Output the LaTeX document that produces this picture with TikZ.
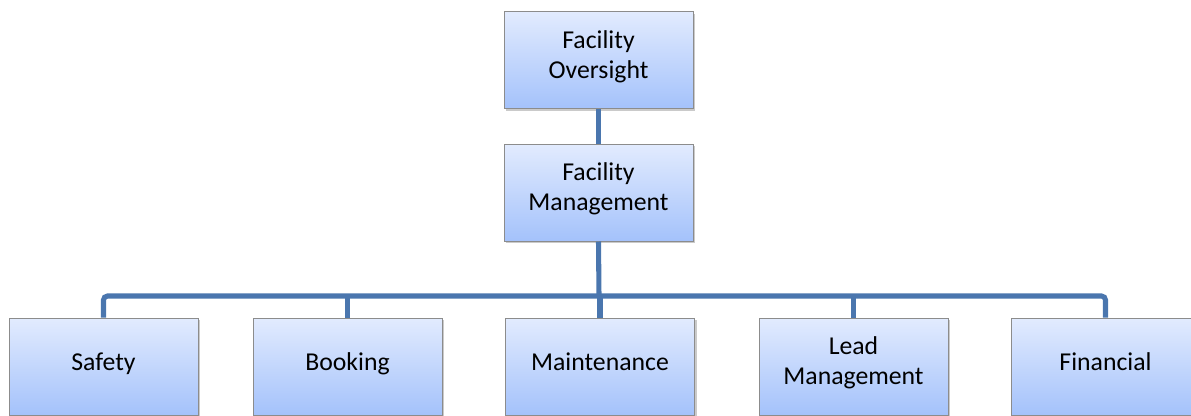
\documentclass[tikz,border=0pt]{standalone}
\usepackage{fontspec}
\setmainfont{Carlito}
\usepackage{tikz}
\usetikzlibrary{shadows}

\begin{document}
\begin{tikzpicture}[x=0.75pt,y=0.75pt,yscale=-1,xscale=1,
  unit/.style={draw={rgb,255:red,140;green,140;blue,140}, line width=0.75pt,
    top color={rgb,255:red,226;green,235;blue,254},
    bottom color={rgb,255:red,164;green,194;blue,251},
    minimum width=141.75pt, minimum height=72.75pt, inner sep=0pt,
    text depth=8.5pt,
    align=center, font=\fontsize{19.3}{22.5}\selectfont,
    drop shadow={shadow xshift=1.5pt, shadow yshift=-1.5pt, opacity=0.35, fill=black!60}},
  oneline/.style={unit, text height=14pt},
  link/.style={draw={rgb,255:red,74;green,118;blue,174}, line width=3.8pt}]
\useasboundingbox (0,0) rectangle (1191,415);

% top of the chart
\node [unit] (oversight) at (598.5,60) {Facility\\Oversight};
\node [unit] (mgmt) at (598.5,192.5) {Facility\\Management};
\coordinate (bus) at (599,296);

% departments
\node [oneline] (safety) at (103.5,366.5) {Safety};
\node [oneline] (booking) at (347.5,366.5) {Booking};
\node [oneline] (maint) at (600,366.5) {Maintenance};
\node [unit] (lead) at (853.5,366.5) {Lead\\Management};
\node [oneline] (fin) at (1105.5,366.5) {Financial};

% connectors
\draw [link] (oversight.south) -- (mgmt.north);
\draw [link] (mgmt.south) -- (bus);
\draw [link,rounded corners=3] (safety.north) |- (bus) -| (fin.north);
\foreach \d in {booking,maint,lead}
  \draw [link] (\d.north) -- (\d.north |- bus);

\end{tikzpicture}
\end{document}
